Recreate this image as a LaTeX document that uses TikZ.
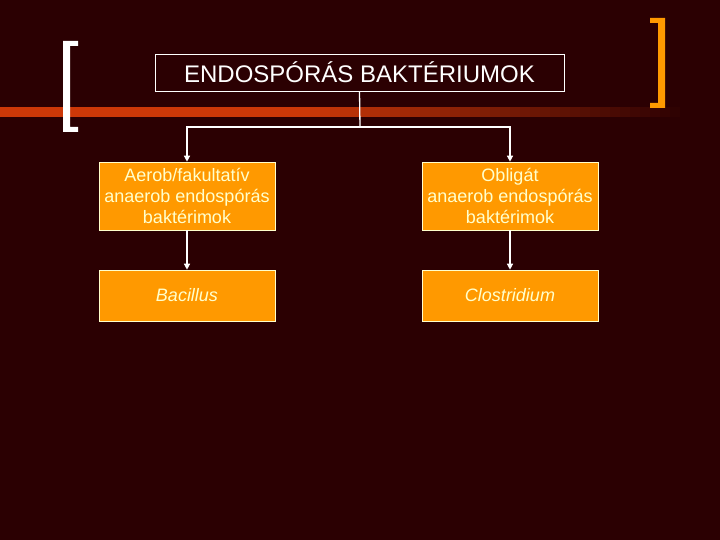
\documentclass[tikz,border=0pt]{standalone}
\usepackage{fontspec}
\setmainfont{Liberation Sans}
\usetikzlibrary{arrows.meta}
\definecolor{bgc}{RGB}{43,0,2}
\definecolor{barc}{RGB}{204,56,8}
\definecolor{boxc}{RGB}{255,153,0}
\definecolor{txtc}{RGB}{255,255,204}
\tikzset{
  boxnode/.style={draw=txtc, line width=0.6pt, fill=boxc, text=txtc, align=center,
    minimum width=176pt, inner sep=1pt, font=\fontsize{18}{21}\selectfont},
  arr/.style={draw=white, line width=1.3pt, -{Triangle[width=6pt,length=6pt]}},
  conn/.style={draw=white, line width=1.3pt}
}
\begin{document}
\begin{tikzpicture}[x=1pt,y=-1pt]
\useasboundingbox (0,0) rectangle (720,540);
\fill[bgc] (0,0) rectangle (720,540);
% gradient bar
\fill[barc] (0,107) rectangle (300,117);
\foreach \i in {0,...,38}{
  \pgfmathsetmacro{\p}{100-\i*100/38}
  \fill[barc!\p!bgc] ({300+\i*10},107) rectangle ({310.5+\i*10},117);
}
% brackets
\fill[white] (63,41) -- (78,41) -- (78,46) -- (70,46) -- (70,127) -- (78,127) -- (78,132) -- (63,132) -- cycle;
\fill[boxc] (650,18) -- (665,18) -- (665,108) -- (650,108) -- (650,103) -- (658,103) -- (658,23) -- (650,23) -- cycle;
% title
\node[draw=white, line width=0.8pt, minimum width=409pt, minimum height=37pt, text=white,
  font=\fontsize{24}{28}\selectfont] (title) at (359.5,72.5) {ENDOSPÓRÁS BAKTÉRIUMOK};
% boxes
\node[boxnode, minimum height=68pt] (a1) at (187,196) {Aerob/fakultatív\\anaerob endospórás\\baktérimok};
\node[boxnode, minimum height=68pt] (o1) at (510,196) {Obligát\\anaerob endospórás\\baktérimok};
\node[boxnode, minimum height=51pt] (a2) at (187,295.5) {\textit{Bacillus}};
\node[boxnode, minimum height=51pt] (o2) at (510,295.5) {\textit{Clostridium}};
% connectors
\coordinate (j) at (360,127);
\draw[conn] (title.south) -- (j);
\draw[arr] (j) -| (a1.north);
\draw[arr] (j) -| (o1.north);
\draw[arr] (a1) -- (a2);
\draw[arr] (o1) -- (o2);
\end{tikzpicture}
\end{document}
